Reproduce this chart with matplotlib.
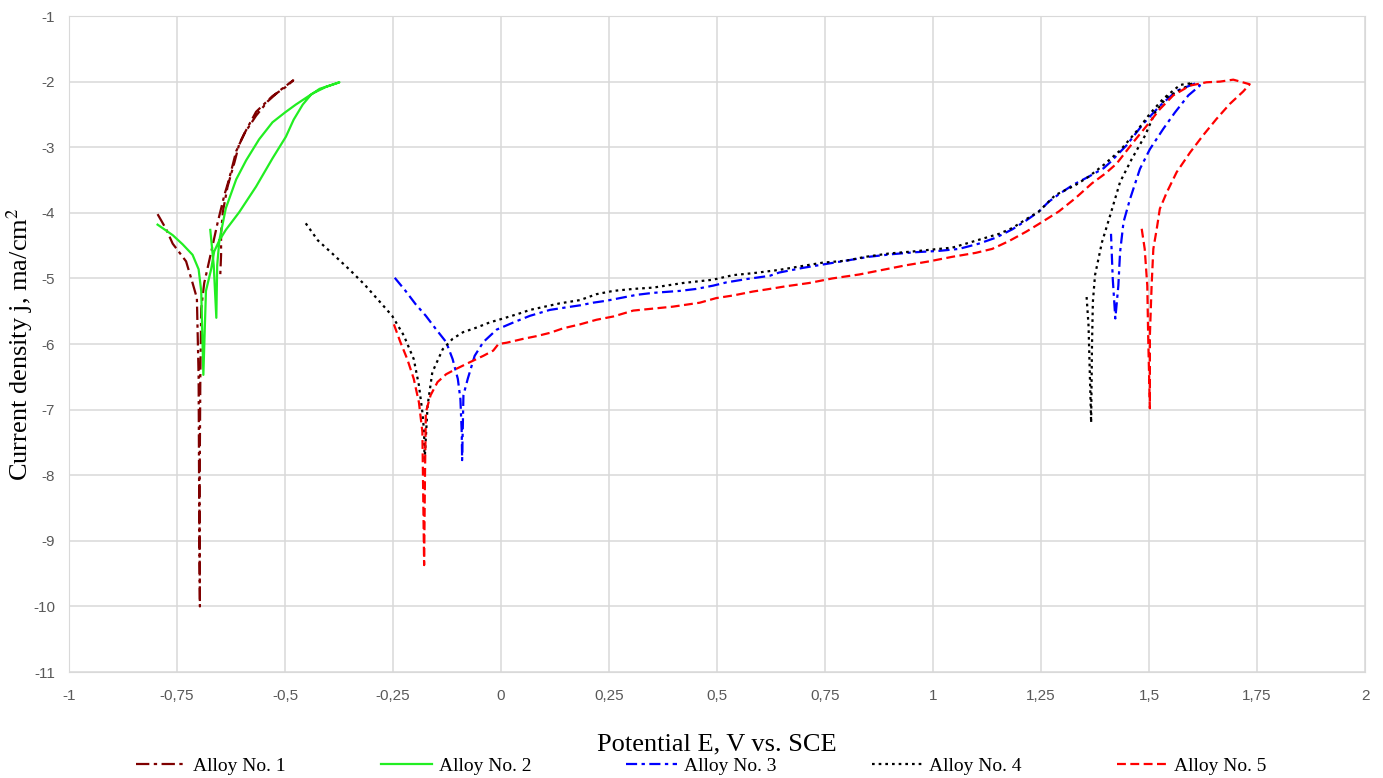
# Polarization curves of five alloys (log current density vs potential).
import matplotlib
matplotlib.use('Agg')
import matplotlib.pyplot as plt

# Alloy No. 1 (scan order: cathodic branch, dip, anodic branch, reverse scan)
a1_x = [-0.795, -0.775, -0.76, -0.745, -0.729, -0.714, -0.704, -0.700, -0.699, -0.698,
        -0.697, -0.698, -0.696, -0.694, -0.687, -0.671, -0.656, -0.64, -0.63, -0.613,
        -0.594, -0.567, -0.54, -0.513, -0.481, -0.498, -0.529, -0.567, -0.59, -0.606,
        -0.617, -0.633, -0.644, -0.648, -0.648, -0.65]
a1_y = [-4.02, -4.25, -4.47, -4.6, -4.74, -5.07, -5.3, -6.5, -8.0, -9.0,
        -10.0, -8.5, -6.5, -5.46, -5.07, -4.6, -4.15, -3.72, -3.5, -3.06,
        -2.79, -2.52, -2.3, -2.14, -1.98, -2.08, -2.22, -2.46, -2.74, -2.95,
        -3.23, -3.6, -3.99, -4.31, -4.64, -4.97]

# Alloy No. 2
a2_x = [-0.795, -0.76, -0.737, -0.714, -0.7, -0.694, -0.689, -0.683, -0.671, -0.664,
        -0.652, -0.637, -0.613, -0.59, -0.56, -0.529, -0.5, -0.475, -0.436, -0.405,
        -0.374, -0.42, -0.44, -0.459, -0.48, -0.498, -0.529, -0.567, -0.606, -0.637,
        -0.652, -0.657, -0.659, -0.665, -0.673]
a2_y = [-4.18, -4.34, -4.48, -4.64, -4.86, -5.19, -6.47, -5.19, -4.86, -4.59,
        -4.42, -3.93, -3.49, -3.2, -2.88, -2.62, -2.47, -2.35, -2.18, -2.08,
        -2.01, -2.11, -2.2, -2.35, -2.58, -2.84, -3.17, -3.6, -3.99, -4.26,
        -4.42, -4.8, -5.6, -4.8, -4.26]

# Alloy No. 3
a3_x = [-0.246, -0.221, -0.198, -0.174, -0.151, -0.127, -0.112, -0.1, -0.094, -0.091,
        -0.09, -0.087, -0.077, -0.061, -0.041, -0.01, 0.029, 0.067, 0.113, 0.152,
        0.183, 0.213, 0.244, 0.283, 0.314, 0.352, 0.414, 0.452, 0.491, 0.522,
        0.568, 0.622, 0.644, 0.698, 0.752, 0.798, 0.852, 0.906, 0.96, 1.014,
        1.06, 1.106, 1.145, 1.184, 1.215, 1.245, 1.268, 1.295, 1.325, 1.36,
        1.395, 1.41, 1.448, 1.487, 1.525, 1.564, 1.61, 1.618, 1.591, 1.56,
        1.533, 1.502, 1.479, 1.456, 1.441, 1.433, 1.429, 1.422, 1.416, 1.412]
a3_y = [-4.99, -5.19, -5.39, -5.57, -5.77, -5.97, -6.23, -6.53, -6.84, -7.34,
        -7.77, -6.78, -6.53, -6.18, -5.97, -5.78, -5.67, -5.57, -5.48, -5.44,
        -5.41, -5.37, -5.34, -5.29, -5.25, -5.22, -5.19, -5.16, -5.11, -5.06,
        -5.01, -4.96, -4.91, -4.84, -4.78, -4.73, -4.67, -4.63, -4.6, -4.58,
        -4.55, -4.47, -4.38, -4.25, -4.12, -3.98, -3.83, -3.7, -3.57, -3.45,
        -3.32, -3.23, -2.97, -2.64, -2.37, -2.14, -2.02, -2.06, -2.21, -2.47,
        -2.72, -3.03, -3.33, -3.79, -4.14, -4.6, -5.11, -5.61, -5.0, -4.32]

# Alloy No. 4
a4_x = [-0.452, -0.424, -0.389, -0.35, -0.315, -0.28, -0.252, -0.225, -0.202, -0.19,
        -0.182, -0.178, -0.177, -0.17, -0.159, -0.135, -0.112, -0.088, -0.057, -0.026,
        0.0, 0.04, 0.067, 0.136, 0.183, 0.221, 0.26, 0.306, 0.352, 0.421,
        0.49, 0.537, 0.583, 0.644, 0.698, 0.744, 0.798, 0.844, 0.898, 0.952,
        0.998, 1.045, 1.076, 1.122, 1.153, 1.184, 1.215, 1.245, 1.283, 1.329,
        1.36, 1.395, 1.433, 1.472, 1.502, 1.533, 1.572, 1.602, 1.58, 1.541,
        1.514, 1.491, 1.46, 1.433, 1.41, 1.391, 1.375, 1.37, 1.368, 1.366,
        1.36, 1.355]
a4_y = [-4.16, -4.42, -4.63, -4.87, -5.10, -5.36, -5.57, -5.87, -6.23, -6.63,
        -7.04, -7.34, -7.8, -6.94, -6.43, -6.08, -5.92, -5.82, -5.75, -5.67,
        -5.62, -5.54, -5.48, -5.38, -5.33, -5.24, -5.19, -5.16, -5.14, -5.07,
        -5.02, -4.95, -4.92, -4.87, -4.81, -4.76, -4.73, -4.67, -4.62, -4.59,
        -4.56, -4.53, -4.47, -4.38, -4.32, -4.23, -4.1, -3.98, -3.73, -3.58,
        -3.45, -3.27, -3.05, -2.75, -2.49, -2.26, -2.05, -2.02, -2.1, -2.24,
        -2.47, -2.82, -3.18, -3.53, -4.04, -4.45, -4.95, -5.36, -6.02, -7.2,
        -5.72, -5.23]

# Alloy No. 5
a5_x = [-0.248, -0.233, -0.217, -0.202, -0.19, -0.182, -0.18, -0.178, -0.176, -0.174,
        -0.163, -0.147, -0.127, -0.104, -0.073, -0.041, -0.018, -0.006, 0.013, 0.052,
        0.082, 0.113, 0.144, 0.183, 0.221, 0.26, 0.306, 0.352, 0.398, 0.46,
        0.498, 0.537, 0.583, 0.622, 0.659, 0.713, 0.767, 0.829, 0.883, 0.937,
        0.991, 1.045, 1.099, 1.137, 1.176, 1.215, 1.245, 1.291, 1.329, 1.368,
        1.399, 1.425, 1.464, 1.495, 1.525, 1.556, 1.595, 1.633, 1.664, 1.695,
        1.733, 1.718, 1.687, 1.656, 1.625, 1.595, 1.564, 1.541, 1.525, 1.518,
        1.51, 1.506, 1.502, 1.502, 1.498, 1.496, 1.49, 1.483]
a5_y = [-5.70, -5.97, -6.23, -6.53, -6.89, -7.34, -8.35, -9.37, -8.0, -7.04,
        -6.78, -6.58, -6.46, -6.38, -6.28, -6.18, -6.1, -6.0, -5.98, -5.92,
        -5.88, -5.83, -5.76, -5.70, -5.63, -5.58, -5.49, -5.46, -5.43, -5.37,
        -5.30, -5.26, -5.2, -5.16, -5.12, -5.07, -5.0, -4.94, -4.87, -4.8,
        -4.74, -4.67, -4.61, -4.55, -4.43, -4.29, -4.17, -3.98, -3.78, -3.55,
        -3.4, -3.25, -2.92, -2.67, -2.42, -2.21, -2.06, -2.01, -2.0, -1.97,
        -2.04, -2.15, -2.34, -2.57, -2.82, -3.08, -3.38, -3.69, -3.94, -4.24,
        -4.55, -5.11, -5.87, -6.98, -5.87, -5.11, -4.55, -4.24]

x_ticks = [-1, -0.75, -0.5, -0.25, 0, 0.25, 0.5, 0.75, 1, 1.25, 1.5, 1.75, 2]
x_tick_labels = ['-1', '-0,75', '-0,5', '-0,25', '0', '0,25', '0,5', '0,75',
                 '1', '1,25', '1,5', '1,75', '2']
y_ticks = list(range(-11, 0))


def main():
    plt.rcParams['mathtext.fontset'] = 'stix'
    plt.rcParams['axes.unicode_minus'] = False
    fig = plt.figure(figsize=(13.83, 7.78), dpi=100)
    ax = fig.add_axes([0.0499, 0.1362, 0.9371, 0.8432])

    ax.plot(a1_x, a1_y, color='#7f0000', lw=1.6, dashes=(6, 2, 1.5, 2), label='Alloy No. 1')
    ax.plot(a2_x, a2_y, color='#22ee22', lw=1.6, ls='-', label='Alloy No. 2')
    ax.plot(a3_x, a3_y, color='#0000ff', lw=1.6, dashes=(5, 2, 1.5, 2), label='Alloy No. 3')
    ax.plot(a4_x, a4_y, color='#000000', lw=1.6, dashes=(1.2, 1.8), label='Alloy No. 4')
    ax.plot(a5_x, a5_y, color='#ff0000', lw=1.6, dashes=(4, 2), label='Alloy No. 5')

    ax.set_xlim(-1, 2)
    ax.set_ylim(-11, -1)
    ax.set_xticks(x_ticks)
    ax.set_xticklabels(x_tick_labels)
    ax.set_yticks(y_ticks)
    ax.tick_params(length=0, labelsize=11, labelcolor='#595959')
    ax.tick_params(axis='x', pad=12)
    ax.tick_params(axis='y', pad=10)
    for lab in ax.get_xticklabels() + ax.get_yticklabels():
        lab.set_family('Liberation Sans')
    ax.grid(True, color='#d9d9d9', lw=1.1)
    ax.set_axisbelow(True)
    for sp in ax.spines.values():
        sp.set_color('#d9d9d9')

    ax.set_xlabel('Potential E, V vs. SCE', family='Liberation Serif', fontsize=19, labelpad=22)
    ax.set_ylabel(r'Current density j, ma/cm$^{2}$', family='Liberation Serif', fontsize=19, labelpad=-1)

    fig.legend(loc='lower center', bbox_to_anchor=(0.507, -0.019), ncol=5, frameon=False,
               prop={'family': 'Liberation Serif', 'size': 14},
               handlelength=2.6, handletextpad=0.35, columnspacing=4.9)

    fig.savefig('out.png', dpi=100)


if __name__ == '__main__':
    main()
